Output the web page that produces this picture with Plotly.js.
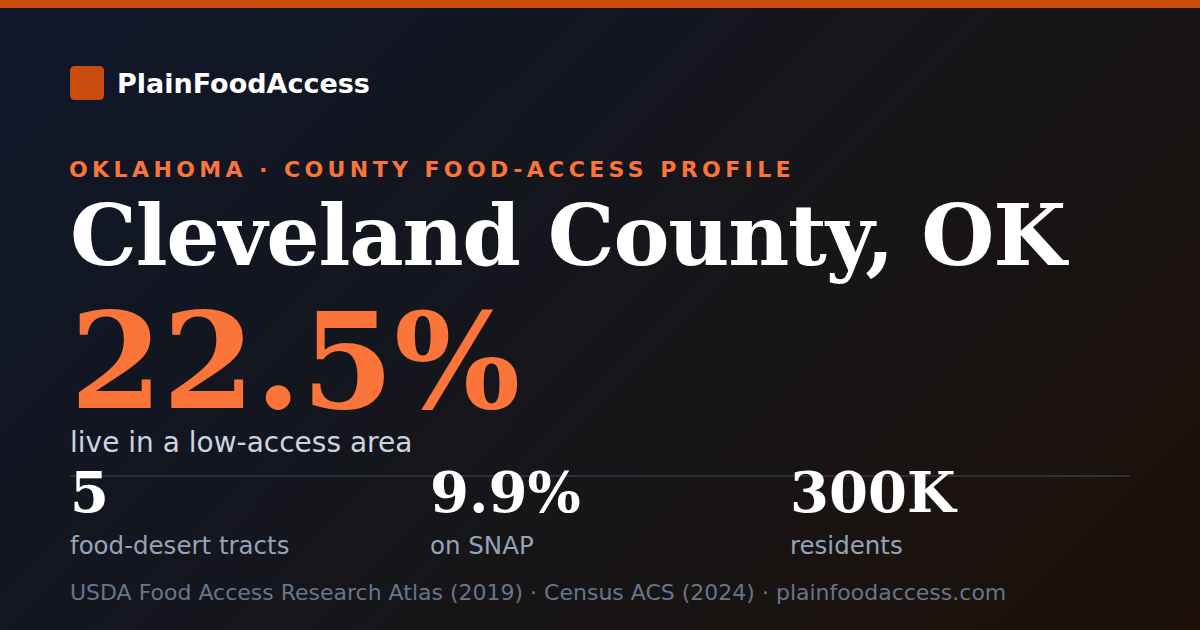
<!DOCTYPE html>
<html>
<head>
<meta charset="utf-8">
<script src="https://cdn.plot.ly/plotly-3.0.1.min.js"></script>
<style>
  html, body { margin: 0; padding: 0; width: 1200px; height: 630px; overflow: hidden; }
  body { background: linear-gradient(135deg, #0f172a 0%, #16161b 50%, #1d1108 100%); }
  #chart { width: 1200px; height: 630px; }
</style>
</head>
<body>
<div id="chart"></div>
<script>
// ---- data ----
const brandName = "PlainFoodAccess";
const stateName = "OKLAHOMA";
const countyName = "Cleveland County, OK";
const lowAccessShare = 22.5;              // percent of residents in low-access area
const lowAccessLabel = "live in a low-access area";
const statValues = ["5", "9.9%", "300K"];
const statLabels = ["food-desert tracts", "on SNAP", "residents"];
const sources = ["USDA Food Access Research Atlas (2019)", "Census ACS (2024)", "plainfoodaccess.com"];

// ---- styles / layout ----
const SANS = "DejaVu Sans, Verdana, sans-serif";
const SERIF = "DejaVu Serif, Georgia, serif";
const ORANGE = "#fb7439";
const BRAND = "#c94c0c";
const W = 1200, H = 630;
const left = 70;
const colX = [70, 430, 790];

function ann(text, x, y, size, color, family, weight, extra) {
  return Object.assign({
    text: text, x: x, y: y, xref: "x", yref: "y",
    xanchor: "left", yanchor: "middle", showarrow: false,
    font: { family: family, size: size, color: color, weight: weight }
  }, extra || {});
}

const annotations = [
  ann(brandName, 115, 83.5, 27, "#ffffff", SANS, 700),
  ann('<span style="letter-spacing:4.4px">' + stateName + " · COUNTY FOOD-ACCESS PROFILE</span>", left - 3, 169.7, 22, ORANGE, SANS, 700),
  ann('<span style="letter-spacing:-1.2px">' + countyName + '</span>', left - 2, 235.2, 84, "#ffffff", SERIF, 700),
  ann(lowAccessShare.toFixed(1) + "%", left - 2, 361.0, 133, ORANGE, SERIF, 700),
  ann(lowAccessLabel, left - 2, 442.0, 28, "#cbd5e1", SANS, 400),
  ann(sources.join(" · "), left - 2, 592.0, 22, "#66768c", SANS, 400)
];
statValues.forEach((v, i) => annotations.push(ann(v, colX[i] - 2, 492.0, 56, "#ffffff", SERIF, 700)));
statLabels.forEach((l, i) => annotations.push(ann(l, colX[i] - 2, 545.0, 24.5, "#94a3b8", SANS, 400)));

const shapes = [
  { type: "rect", xref: "x", yref: "y", x0: 0, x1: W, y0: 0, y1: 8, line: { width: 0 }, fillcolor: BRAND, layer: "below" },
  { type: "path", xref: "x", yref: "y",
    path: "M75,66 H99 Q104,66 104,71 V95 Q104,100 99,100 H75 Q70,100 70,95 V71 Q70,66 75,66 Z",
    line: { width: 0 }, fillcolor: BRAND, layer: "below" },
  { type: "line", xref: "x", yref: "y", x0: left, x1: 1130, y0: 476, y1: 476, line: { color: "#2a313d", width: 2 }, layer: "below" }
];

const layout = {
  width: W, height: H,
  margin: { l: 0, r: 0, t: 0, b: 0, pad: 0 },
  paper_bgcolor: "rgba(0,0,0,0)",
  plot_bgcolor: "rgba(0,0,0,0)",
  showlegend: false,
  xaxis: { range: [0, W], visible: false, fixedrange: true },
  yaxis: { range: [H, 0], visible: false, fixedrange: true },
  shapes: shapes,
  annotations: annotations
};

Plotly.newPlot("chart", [{ type: "scatter", x: [], y: [], hoverinfo: "skip" }], layout,
  { staticPlot: true, displayModeBar: false });
</script>
</body>
</html>
